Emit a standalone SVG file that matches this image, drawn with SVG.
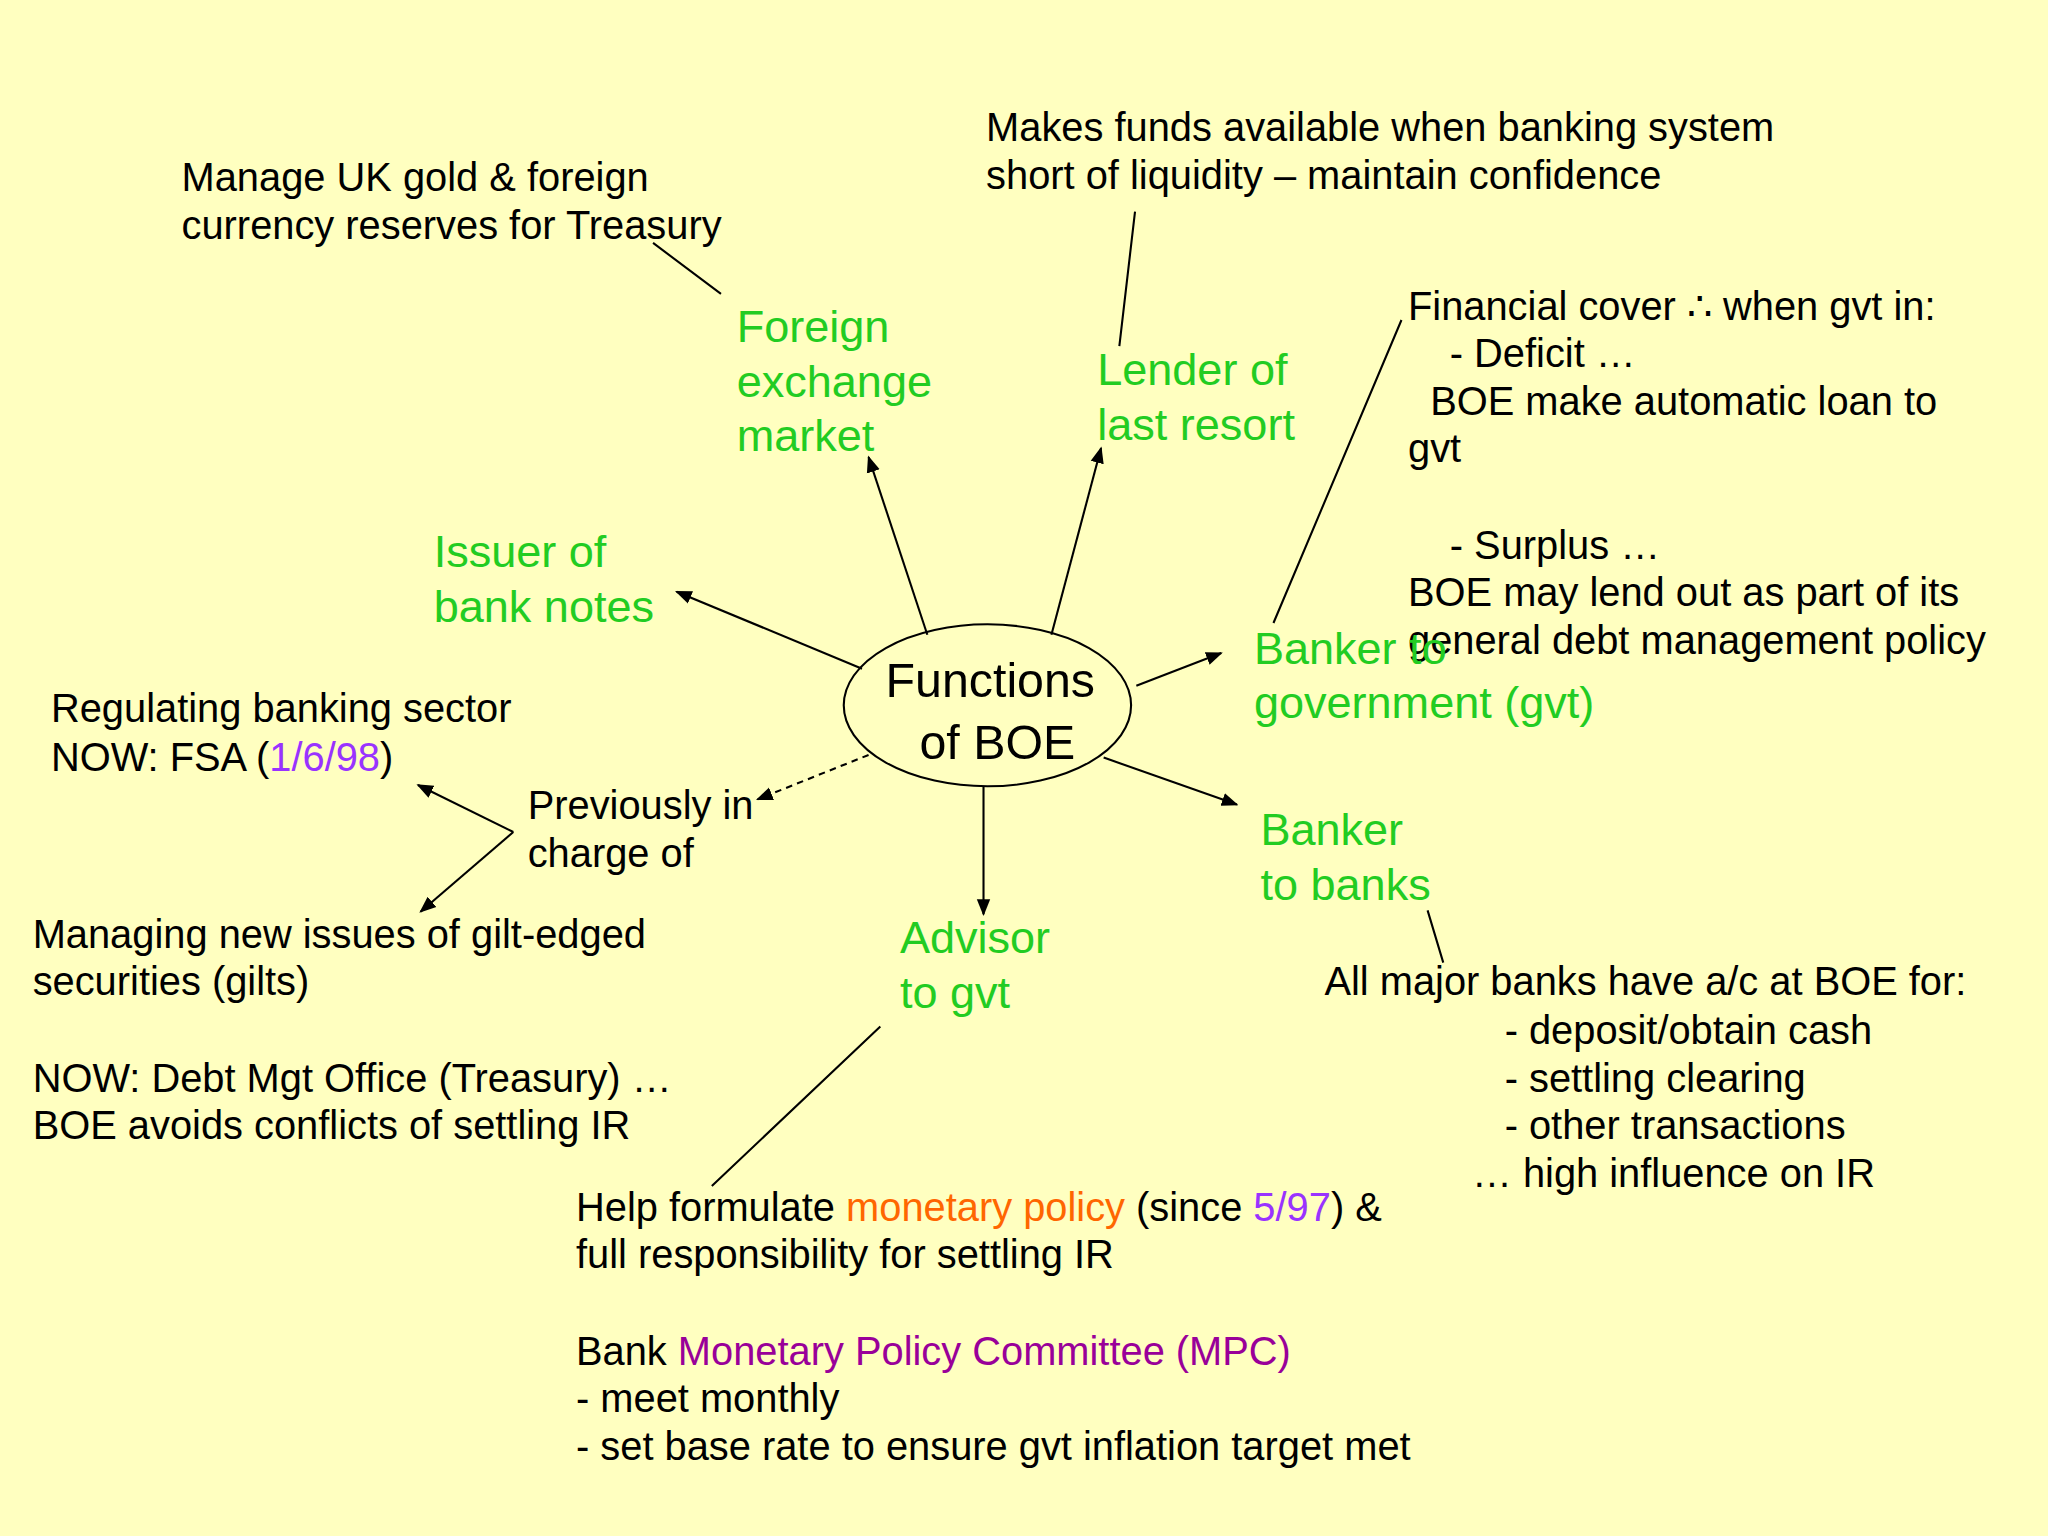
<svg xmlns="http://www.w3.org/2000/svg" width="2048" height="1536" viewBox="0 0 2048 1536">
<style>
text{font-family:"Liberation Sans",Arial,sans-serif;font-size:30.5px;fill:#000}
.g{fill:#22CC22;font-size:34.5px}
.c{font-size:37px}
.o{fill:#FF6600}.p{fill:#9933FF}.m{fill:#990099}
.ln{stroke:#000;stroke-width:1.6;fill:none}
</style>
<defs><marker id="a" viewBox="0 0 10 10" refX="9" refY="5" markerWidth="8" markerHeight="8" orient="auto"><path d="M0,1 L10,5 L0,9 z" fill="#000"/></marker></defs>
<rect width="2048" height="1536" fill="#FFFFC0"/>
<g transform="scale(1.30612)">
<g id="connectors">
<path class="ln" marker-end="url(#a)" d="M660,512 L518,453"/>
<path class="ln" marker-end="url(#a)" d="M710,486 L665,350"/>
<path class="ln" marker-end="url(#a)" d="M805,486 L843,343"/>
<path class="ln" marker-end="url(#a)" d="M870,525 L935,500"/>
<path class="ln" marker-end="url(#a)" d="M845,580 L947,616"/>
<path class="ln" marker-end="url(#a)" d="M753,602 L753,700"/>
<path class="ln" marker-end="url(#a)" stroke-dasharray="5,4" d="M665,578 L580,612"/>
<path class="ln" marker-end="url(#a)" d="M393,637 L320,601"/>
<path class="ln" marker-end="url(#a)" d="M393,637 L322,698"/>
<path class="ln" d="M500,186 L552,225 M869,162 L857,265 M1073,245 L975,477 M1093,697 L1105,737 M674,786 L545,908"/>
</g>
<g id="center"><ellipse cx="756" cy="540" rx="110" ry="62" fill="none" stroke="#000" stroke-width="1.6"/>
<text class="c" x="678" y="534">Functions</text><text class="c" x="704" y="581">of BOE</text></g>
<g id="gold"><text x="139" y="146">Manage UK gold &amp; foreign</text><text x="139" y="183">currency reserves for Treasury</text></g>
<g id="funds"><text x="755" y="108">Makes funds available when banking system</text><text x="755" y="145">short of liquidity – maintain confidence</text></g>
<g id="forex"><text class="g" x="564" y="262">Foreign</text><text class="g" x="564" y="304">exchange</text><text class="g" x="564" y="345">market</text></g>
<g id="lender"><text class="g" x="840" y="295">Lender of</text><text class="g" x="840" y="337">last resort</text></g>
<g id="cover"><text x="1078" y="245">Financial cover ∴  when gvt in:</text><text x="1110" y="281">- Deficit …</text><text x="1095" y="318">BOE make automatic loan to</text><text x="1078" y="354">gvt</text><text x="1110" y="428">- Surplus …</text><text x="1078" y="464">BOE may lend out as part of its</text><text x="1078" y="501">general debt management policy</text></g>
<g id="issuer"><text class="g" x="332" y="434">Issuer of</text><text class="g" x="332" y="476">bank notes</text></g>
<g id="bgov"><text class="g" x="960" y="508">Banker to</text><text class="g" x="960" y="550">government (gvt)</text></g>
<g id="reg"><text x="39" y="553">Regulating banking sector</text><text x="39" y="590">NOW: FSA (<tspan class="p">1/6/98</tspan>)</text></g>
<g id="prev"><text x="404" y="627">Previously in</text><text x="404" y="664">charge of</text></g>
<g id="bbanks"><text class="g" x="965" y="647">Banker</text><text class="g" x="965" y="689">to banks</text></g>
<g id="gilts"><text x="25" y="726">Managing new issues of gilt-edged</text><text x="25" y="762">securities (gilts)</text><text x="25" y="836">NOW: Debt Mgt Office (Treasury) …</text><text x="25" y="872">BOE avoids conflicts of settling IR</text></g>
<g id="advisor"><text class="g" x="689" y="730">Advisor</text><text class="g" x="689" y="772">to gvt</text></g>
<g id="banks"><text x="1014" y="762">All major banks have a/c at BOE for:</text><text x="1152" y="799">- deposit/obtain cash</text><text x="1152" y="836">- settling clearing</text><text x="1152" y="872">- other transactions</text><text x="1127" y="909">… high influence on IR</text></g>
<g id="mpc"><text x="441" y="935">Help formulate <tspan class="o">monetary policy</tspan> (since <tspan class="p">5/97</tspan>) &amp;</text><text x="441" y="971">full responsibility for settling IR</text><text x="441" y="1045">Bank <tspan class="m">Monetary Policy Committee (MPC)</tspan></text><text x="441" y="1081">- meet monthly</text><text x="441" y="1118">- set base rate to ensure gvt inflation target met</text></g>
</g>
</svg>
